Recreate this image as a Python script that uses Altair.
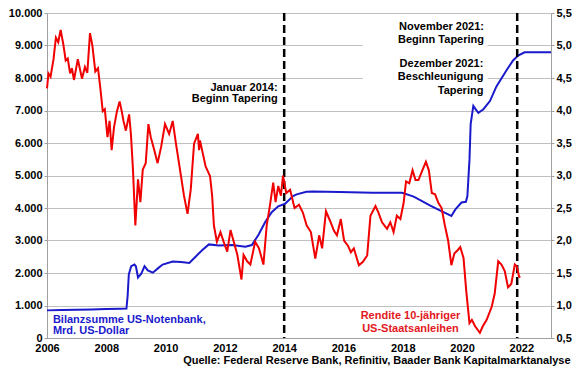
import altair as alt
import pandas as pd

# ---------------- data ----------------
red_year = [2006.00, 2006.05, 2006.12, 2006.22, 2006.30, 2006.38, 2006.46, 2006.55, 2006.63, 2006.70,
            2006.78, 2006.84, 2006.91, 2007.04, 2007.12, 2007.18, 2007.28, 2007.36, 2007.45, 2007.53,
            2007.63, 2007.72, 2007.80, 2007.88, 2007.95, 2008.04, 2008.11, 2008.18, 2008.26, 2008.36,
            2008.45, 2008.52, 2008.58, 2008.66, 2008.77, 2008.83, 2008.90, 2008.98, 2009.07, 2009.15,
            2009.23, 2009.33, 2009.42, 2009.50, 2009.62, 2009.73, 2009.85, 2009.98, 2010.12, 2010.24,
            2010.35, 2010.52, 2010.62, 2010.74, 2010.85, 2010.96, 2011.09, 2011.13, 2011.16, 2011.35,
            2011.50, 2011.57, 2011.63, 2011.73, 2011.85, 2011.96, 2012.08, 2012.19, 2012.30, 2012.42,
            2012.56, 2012.63, 2012.75, 2012.86, 2013.02, 2013.15, 2013.30, 2013.41, 2013.52, 2013.63,
            2013.71, 2013.80, 2013.89, 2013.96, 2014.07, 2014.20, 2014.35, 2014.50, 2014.63, 2014.76,
            2014.90, 2015.05, 2015.18, 2015.28, 2015.41, 2015.55, 2015.68, 2015.78, 2015.91, 2016.02,
            2016.15, 2016.25, 2016.35, 2016.52, 2016.65, 2016.80, 2016.91, 2017.08, 2017.18, 2017.30,
            2017.47, 2017.58, 2017.69, 2017.80, 2017.92, 2018.03, 2018.11, 2018.22, 2018.33, 2018.43,
            2018.53, 2018.66, 2018.78, 2018.88, 2018.98, 2019.09, 2019.20, 2019.31, 2019.42, 2019.53,
            2019.64, 2019.74, 2019.85, 2019.94, 2020.05, 2020.14, 2020.25, 2020.33, 2020.44, 2020.60,
            2020.70, 2020.83, 2021.00, 2021.10, 2021.22, 2021.33, 2021.44, 2021.55, 2021.66, 2021.78,
            2021.85, 2021.92, 2021.96]
red_yield = [4.34, 4.57, 4.52, 4.79, 5.12, 5.05, 5.24, 5.02, 4.77, 4.80,
             4.57, 4.65, 4.47, 4.79, 4.62, 4.49, 4.67, 4.58, 5.19, 5.00,
             4.60, 4.65, 4.34, 3.99, 4.02, 3.59, 3.84, 3.39, 3.74, 3.99,
             4.14, 3.99, 3.84, 3.69, 3.94, 3.64, 3.09, 2.23, 2.94, 2.59,
             3.09, 3.19, 3.79, 3.59, 3.39, 3.19, 3.44, 3.79, 3.64, 3.84,
             3.49, 2.99, 2.69, 2.41, 2.79, 3.49, 3.64, 3.39, 3.54, 3.14,
             2.99, 2.69, 2.23, 1.98, 2.13, 1.98, 1.83, 2.16, 1.98, 1.78,
             1.40, 1.78, 1.68, 1.63, 1.98, 1.88, 1.63, 2.23, 2.54, 2.89,
             2.59, 2.84, 2.69, 3.00, 2.73, 2.78, 2.50, 2.55, 2.43, 2.23,
             2.13, 1.72, 2.08, 1.88, 2.45, 2.30, 2.15, 2.08, 2.33, 2.00,
             1.92, 1.82, 1.88, 1.62, 1.67, 1.77, 2.38, 2.53, 2.43, 2.28,
             2.18, 2.28, 2.13, 2.38, 2.33, 2.58, 2.91, 2.88, 3.08, 2.93,
             2.93, 3.08, 3.21, 3.08, 2.73, 2.71, 2.58, 2.50, 2.23, 2.00,
             1.62, 1.80, 1.85, 1.90, 1.73, 1.23, 0.73, 0.78, 0.68, 0.58,
             0.68, 0.78, 0.98, 1.18, 1.68, 1.63, 1.53, 1.28, 1.33, 1.63,
             1.60, 1.45, 1.43]

blue_year = [2006.00, 2006.50, 2007.00, 2007.50, 2008.00, 2008.50, 2008.68, 2008.72, 2008.76, 2008.84,
             2008.95, 2009.00, 2009.07, 2009.18, 2009.29, 2009.40, 2009.57, 2009.75, 2009.90, 2010.24,
             2010.52, 2010.80, 2011.02, 2011.24, 2011.46, 2011.80, 2012.24, 2012.69, 2012.91, 2013.13,
             2013.36, 2013.58, 2013.80, 2014.03, 2014.30, 2014.42, 2014.75, 2014.97, 2015.87, 2016.98,
             2017.98, 2018.37, 2018.93, 2019.27, 2019.64, 2019.77, 2019.98, 2020.13, 2020.18, 2020.25,
             2020.29, 2020.38, 2020.45, 2020.55, 2020.72, 2020.94, 2021.16, 2021.50, 2021.72, 2021.89,
             2022.11, 2023.00]
blue_bn = [850, 860, 870, 880, 890, 900, 905, 1300, 1960, 2210,
           2260, 2200, 1860, 1980, 2210, 2080, 2010, 2150, 2260, 2350,
           2340, 2310, 2510, 2710, 2880, 2850, 2860, 2810, 2860, 3170,
           3570, 3870, 4050, 4130, 4370, 4420, 4500, 4510, 4490, 4470,
           4470, 4350, 4070, 3920, 3755, 3950, 4170, 4190, 4370, 5480,
           6580, 7140, 7050, 6930, 7040, 7290, 7740, 8240, 8540, 8690,
           8790, 8790]

taper_years = [2014.0, 2021.86]

x_ticks = [2006, 2008, 2010, 2012, 2014, 2016, 2018, 2020, 2022]
left_ticks = [0, 1000, 2000, 3000, 4000, 5000, 6000, 7000, 8000, 9000, 10000]
right_ticks = [0.5, 1.0, 1.5, 2.0, 2.5, 3.0, 3.5, 4.0, 4.5, 5.0, 5.5]

# annotation texts
black_texts = ["Januar 2014:", "Beginn Tapering",
               "November 2021:", "Beginn Tapering",
               "Dezember 2021:", "Beschleunigung", "Tapering"]
black_x = [2013.78, 2013.78, 2020.74, 2020.74, 2020.72, 2020.72, 2020.72]
black_y = [7704, 7341, 9577, 9184, 8429, 8036, 7613]

blue_texts = ["Bilanzsumme US-Notenbank,", "Mrd. US-Dollar"]
blue_tx = [2006.2, 2006.2]
blue_ty = [544, 211]

red_texts = ["Rendite 10-jähriger", "US-Staatsanleihen"]
red_tx = [2018.26, 2018.26]
red_ty = [665, 272]

source_text = ["Quelle: Federal Reserve Bank, Refinitiv, Baader Bank Kapitalmarktanalyse"]
source_x = [2023.66]
source_y = [-710]

box_x = [2016.65]
box_x2 = [2020.86]
box_y = [7281]
box_y2 = [9879]

# ---------------- styling ----------------
FONT = "Liberation Sans"
BLUE = "#1a1acc"
RED = "#f00000"
RED_TXT = "#e3171d"
GRID = "#c0c0c0"
DOMAIN = "#a0a0a0"

df_red = pd.DataFrame({"year": red_year, "yld": red_yield})
df_blue = pd.DataFrame({"year": blue_year, "bn": blue_bn})
df_rule = pd.DataFrame({"year": taper_years})
df_black = pd.DataFrame({"x": black_x, "y": black_y, "t": black_texts})
df_btxt = pd.DataFrame({"x": blue_tx, "y": blue_ty, "t": blue_texts})
df_rtxt = pd.DataFrame({"x": red_tx, "y": red_ty, "t": red_texts})
df_src = pd.DataFrame({"x": source_x, "y": source_y, "t": source_text})
df_box = pd.DataFrame({"x": box_x, "x2": box_x2, "y": box_y, "y2": box_y2})

x_scale = alt.Scale(domain=[2006, 2023], nice=False, zero=False)
yl_scale = alt.Scale(domain=[0, 10000], nice=False)
yr_scale = alt.Scale(domain=[0.5, 5.5], nice=False, zero=False)

x_axis = alt.Axis(values=x_ticks, format="d", title=None, grid=False, ticks=False,
                  labelPadding=4, labelFont=FONT, labelFontWeight="bold", labelFontSize=11,
                  labelColor="black", domainColor=DOMAIN, labelFlush=False, labelOverlap=False)

left_axis = alt.Axis(values=left_ticks, title=None, grid=True, gridColor=GRID, gridWidth=1,
                     labelExpr="replace(format(datum.value, ','), ',', '.')",
                     labelFont=FONT, labelFontWeight="bold", labelFontSize=11, labelColor="black",
                     domainColor=DOMAIN, tickColor=DOMAIN, tickSize=3, labelPadding=2,
                     labelOverlap=False, labelFlush=False)

right_axis = alt.Axis(values=right_ticks, title=None, grid=False, orient="right",
                      labelExpr="replace(format(datum.value, '.1f'), '.', ',')",
                      labelFont=FONT, labelFontWeight="bold", labelFontSize=11, labelColor="black",
                      domainColor=DOMAIN, tickColor=DOMAIN, tickSize=3, labelPadding=2,
                      labelOverlap=False, labelFlush=False)


def X(field):
    return alt.X(field, type="quantitative", scale=x_scale, axis=x_axis)


def YL(field):
    return alt.Y(field, type="quantitative", scale=yl_scale, axis=left_axis)


box = alt.Chart(df_box).mark_rect(color="white").encode(
    x=X("x"), x2="x2:Q", y=YL("y"), y2="y2:Q")

blue_line = alt.Chart(df_blue).mark_line(color=BLUE, strokeWidth=2).encode(
    x=X("year"), y=YL("bn"))

rules = alt.Chart(df_rule).mark_rule(color="black", strokeWidth=2.5, strokeDash=[8, 4]).encode(
    x=X("year"))


def texts(df, align, color):
    return alt.Chart(df).mark_text(align=align, baseline="middle", font=FONT, fontWeight="bold",
                                   fontSize=11, color=color).encode(
        x=X("x"), y=YL("y"), text="t:N")


left_layer = alt.layer(box, blue_line, rules,
                       texts(df_black, "right", "black"),
                       texts(df_btxt, "left", BLUE),
                       texts(df_rtxt, "center", RED_TXT),
                       texts(df_src, "right", "black"))

red_line = alt.Chart(df_red).mark_line(color=RED, strokeWidth=2).encode(
    x=X("year"),
    y=alt.Y("yld", type="quantitative", scale=yr_scale, axis=right_axis))

chart = alt.layer(left_layer, red_line).resolve_scale(y="independent").properties(
    width=504, height=325,
    padding={"left": 39, "top": 5, "right": 21, "bottom": 29},
    autosize=alt.AutoSizeParams(type="none"),
    background="white",
).configure_view(stroke=None)

chart.save("out.html", embed_options={"renderer": "svg", "actions": False})
